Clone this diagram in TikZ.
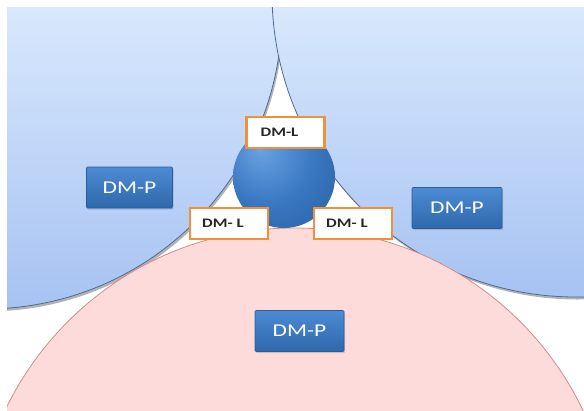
\documentclass[tikz,border=0pt]{standalone}
\usepackage{fontspec}
\setmainfont{Carlito}
\usepackage{graphicx}
\usetikzlibrary{shadows}

\definecolor{skytop}{HTML}{D8E8FD}
\definecolor{skybot}{HTML}{A6C2F2}
\definecolor{skyline}{HTML}{4E6C92}
\definecolor{rosefill}{HTML}{FDDBDB}
\definecolor{roseline}{HTML}{D48A8A}
\definecolor{boxtop}{HTML}{4C8BD3}
\definecolor{boxbot}{HTML}{2F68AC}
\definecolor{boxline}{HTML}{2A5C98}
\definecolor{ringorange}{HTML}{F0903A}
\definecolor{sphhi}{HTML}{6AA3E3}
\definecolor{sphmid}{HTML}{3A78C2}
\definecolor{sphdark}{HTML}{1F4F8C}

\pgfdeclareradialshading{spherebl}{\pgfpoint{-12bp}{14bp}}{%
  color(0bp)=(sphhi); color(22bp)=(sphmid); color(58bp)=(sphdark); color(70bp)=(sphdark)}

\newcommand{\widetext}[1]{\scalebox{1.3}[1]{#1}}

\tikzset{
  dmp/.style={draw=boxline, line width=0.6pt, top color=boxtop, bottom color=boxbot,
    rounded corners=1pt, text=white, font={\fontsize{18}{20}\selectfont},
    minimum width=86pt, minimum height=41pt, inner sep=0pt,
    drop shadow={opacity=0.35, shadow xshift=1pt, shadow yshift=-1.5pt}},
  dml/.style={draw=ringorange, line width=2.5pt, fill=white, text=black!85,
    font={\bfseries\fontsize{13}{14}\selectfont},
    minimum width=78pt, minimum height=31pt, inner sep=0pt},
}

\begin{document}
\begin{tikzpicture}[x=1pt, y=1pt]
\useasboundingbox (0,0) rectangle (584,-410);

\begin{scope}
\clip (7,-7) rectangle (584,-410);

% left disc
\fill[black, opacity=0.3] (-13.5,-14.5) circle (297);
\begin{scope}
  \clip (-15,-12) circle (297);
  \shade[top color=skytop, bottom color=skybot] (7,-7) rectangle (300,-312);
\end{scope}
\draw[skyline, line width=0.8pt] (-15,-12) circle (297);

% right disc
\fill[black, opacity=0.3] (577.5,4.5) circle (304);
\begin{scope}
  \clip (576,7) circle (304);
  \shade[top color=skytop, bottom color=skybot] (265,-7) rectangle (584,-300);
\end{scope}
\draw[skyline, line width=0.8pt] (576,7) circle (304);

% bottom disc
\fill[rosefill] (294,-548) circle (320);
\draw[roseline, line width=0.8pt] (294,-548) circle (320);
\end{scope}

% centre ball
\shade[shading=spherebl] (284,-177) circle (51);

\node[dml] (dmlTop) at (285.5,-132.5) {\widetext{DM-L}\hspace*{12pt}};
\node[dml] (dmlLeft) at (229,-223.5) {\widetext{DM- L}\hspace*{12pt}};
\node[dml] (dmlRight) at (353,-223.5) {\widetext{DM- L}\hspace*{12pt}};

\node[dmp] (dmpLeft) at (129.5,-187.5) {\widetext{DM-P}};
\node[dmp, minimum width=90pt] (dmpRight) at (457,-208) {\widetext{DM-P}};
\node[dmp, minimum width=89pt] (dmpBottom) at (299.5,-331) {\widetext{DM-P}};
\end{tikzpicture}
\end{document}
